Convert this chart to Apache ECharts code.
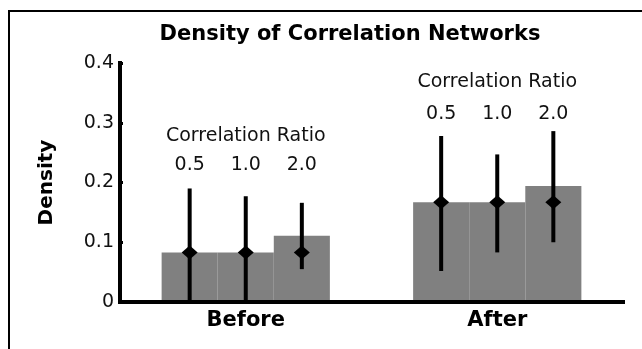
<!DOCTYPE html>
<html>
<head>
<meta charset="utf-8">
<script src="https://cdn.jsdelivr.net/npm/echarts@6/dist/echarts.min.js"></script>
<style>
  html, body { margin: 0; padding: 0; background: #ffffff; }
  #chart { width: 642px; height: 349px; }
</style>
</head>
<body>
<div id="chart"></div>
<script>
// Groups on the x axis and the correlation ratios inside each group
const categories = ['Before', 'After'];
const ratioLabels = ['0.5', '1.0', '2.0'];
const yTickLabels = ['0', '0.1', '0.2', '0.3', '0.4'];

// Network density (bar height), one array per ratio: [Before, After]
const densityRatio05 = [0.083, 0.167];
const densityRatio10 = [0.083, 0.167];
const densityRatio20 = [0.111, 0.194];

// Diamond markers, one array per ratio: [Before, After]
const centerRatio05 = [0.083, 0.167];
const centerRatio10 = [0.083, 0.167];
const centerRatio20 = [0.083, 0.167];

// Error bar ranges, one array per ratio: [Before, After]
const lowerRatio05 = [0.000, 0.052];
const upperRatio05 = [0.190, 0.278];
const lowerRatio10 = [0.000, 0.083];
const upperRatio10 = [0.177, 0.247];
const lowerRatio20 = [0.055, 0.100];
const upperRatio20 = [0.166, 0.286];

// Layout: heights (in axis units) of the per-group header text
const HEADER_RATIO_LEVEL = [0.229, 0.315];
const HEADER_TITLE_LEVEL = [0.278, 0.368];
const BAR_FRACTION = 0.223;          // bar width as a share of the category band
const FONT = '"DejaVu Sans", "Liberation Sans", sans-serif';

const densities = [densityRatio05, densityRatio10, densityRatio20];
const centers = [centerRatio05, centerRatio10, centerRatio20];
const lowers = [lowerRatio05, lowerRatio10, lowerRatio20];
const uppers = [upperRatio05, upperRatio10, upperRatio20];

const errorData = [];
categories.forEach((_, c) => {
  ratioLabels.forEach((_, r) => {
    errorData.push([c, r, lowers[r][c], uppers[r][c], centers[r][c]]);
  });
});
const headerData = categories.map((_, c) => [c, HEADER_RATIO_LEVEL[c], HEADER_TITLE_LEVEL[c]]);

function renderErrorBar(params, api) {
  const cat = api.value(0);
  const r = api.value(1);
  const band = api.size([1, 0])[0];
  const dx = (r - 1) * band * BAR_FRACTION;
  const top = api.coord([cat, api.value(3)]);
  const bottom = api.coord([cat, api.value(2)]);
  const mid = api.coord([cat, api.value(4)]);
  const x = top[0] + dx;
  const cy = mid[1];
  return {
    type: 'group',
    children: [
      { type: 'line', shape: { x1: x, y1: top[1], x2: x, y2: bottom[1] },
        style: { stroke: '#000000', lineWidth: 4 } },
      { type: 'polygon',
        shape: { points: [[x, cy - 7], [x + 8, cy], [x, cy + 7], [x - 8, cy]] },
        style: { fill: '#000000' } }
    ]
  };
}

function renderHeader(params, api) {
  const cat = api.value(0);
  const band = api.size([1, 0])[0];
  const ratioPos = api.coord([cat, api.value(1)]);
  const titlePos = api.coord([cat, api.value(2)]);
  const children = [{
    type: 'text',
    style: { text: 'Correlation Ratio', x: titlePos[0], y: titlePos[1],
      align: 'center', verticalAlign: 'middle', fill: '#111111',
      font: '19px ' + FONT }
  }];
  ratioLabels.forEach((label, r) => {
    children.push({
      type: 'text',
      style: { text: label, x: ratioPos[0] + (r - 1) * band * BAR_FRACTION, y: ratioPos[1],
        align: 'center', verticalAlign: 'middle', fill: '#111111',
        font: '19px ' + FONT }
    });
  });
  return { type: 'group', children };
}

const chart = echarts.init(document.getElementById('chart'), null, { renderer: 'canvas' });

const barSeries = densities.map((values, r) => ({
  name: ratioLabels[r],
  type: 'bar',
  data: values,
  barWidth: (BAR_FRACTION * 100) + '%',
  barGap: '0%',
  itemStyle: { color: '#808080' },
  emphasis: { disabled: true },
  z: 2
}));

chart.setOption({
  animation: false,
  backgroundColor: '#ffffff',
  graphic: [
    { type: 'rect', shape: { x: 9, y: 11, width: 700, height: 400 },
      style: { fill: 'none', stroke: '#000000', lineWidth: 2 }, silent: true },
    { type: 'text', x: 350, y: 35,
      style: { text: 'Density of Correlation Networks', align: 'center', verticalAlign: 'middle',
        fill: '#000000', font: 'bold 21px ' + FONT } }
  ],
  grid: { left: 120, right: 19, top: 63, bottom: 47, containLabel: false },
  xAxis: {
    type: 'category',
    data: categories,
    z: 10,
    axisLine: { lineStyle: { color: '#000000', width: 4, cap: 'square' } },
    axisTick: { show: false },
    axisLabel: { color: '#000000', fontFamily: FONT, fontWeight: 'bold', fontSize: 21, margin: 8 },
    splitLine: { show: false }
  },
  yAxis: {
    type: 'value',
    min: 0, max: 0.4, interval: 0.1,
    name: 'Density',
    nameLocation: 'middle',
    nameRotate: 90,
    nameGap: 63,
    nameTextStyle: { color: '#000000', fontFamily: FONT, fontWeight: 'bold', fontSize: 20 },
    z: 10,
    axisLine: { show: true, lineStyle: { color: '#000000', width: 4, cap: 'square' } },
    axisTick: { show: true, inside: true, length: 3, lineStyle: { color: '#000000', width: 3 } },
    axisLabel: { color: '#111111', fontFamily: FONT, fontSize: 19, margin: 6,
      padding: [6, 0, 0, 0],
      formatter: (v, i) => yTickLabels[i] },
    splitLine: { show: false }
  },
  series: barSeries.concat([
    { type: 'custom', renderItem: renderErrorBar, data: errorData,
      encode: { x: 0, y: [2, 3] }, z: 5, silent: true },
    { type: 'custom', renderItem: renderHeader, data: headerData,
      encode: { x: 0, y: [1, 2] }, z: 5, silent: true }
  ])
});
</script>
</body>
</html>
